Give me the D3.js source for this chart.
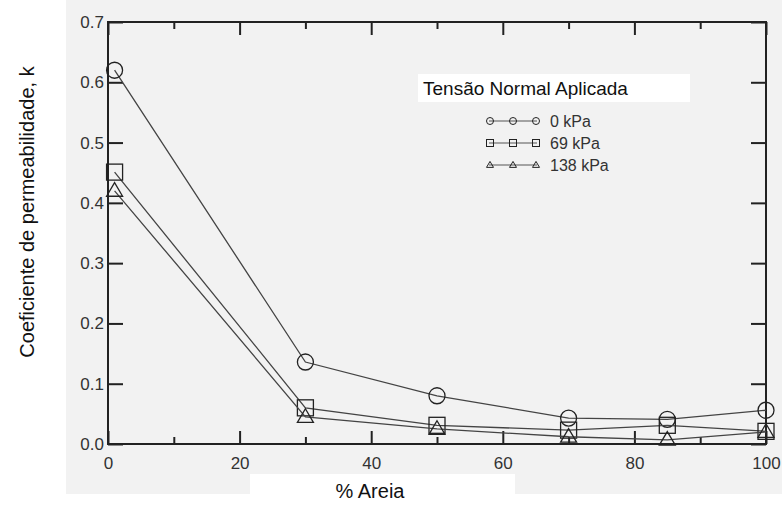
<!DOCTYPE html>
<html>
<head>
<meta charset="utf-8">
<script src="https://cdn.jsdelivr.net/npm/d3@7"></script>
<style>
  body { margin: 0; background: #fff; }
  svg { display: block; font-family: "Liberation Sans", Arial, sans-serif; }
</style>
</head>
<body>
<script>
// % areia (x) and k values
const areia = [1, 30, 50, 70, 85, 100];
const k0 = [0.62, 0.136, 0.080, 0.043, 0.041, 0.056];
const k69 = [0.451, 0.060, 0.031, 0.023, 0.031, 0.021];
const k138 = [0.420, 0.045, 0.025, 0.012, 0.007, 0.020];
const seriesNames = ["0 kPa", "69 kPa", "138 kPa"];
const symbols = ["circle", "square", "triangle"];
const xTicks = [0, 20, 40, 60, 80, 100];
const xMinor = [10, 30, 50, 70, 90];
const yTicks = [0, 0.1, 0.2, 0.3, 0.4, 0.5, 0.6, 0.7];

let W = 782, H = 511;
let svg = d3.select("body").append("svg").attr("width", W).attr("height", H);

// scanned paper background
svg.append("rect").attr("x", 66).attr("y", 0).attr("width", W - 66).attr("height", 494)
    .attr("fill", "#f2f2f2");

let x = d3.scaleLinear().domain([0, 100]).range([108, 766]);
let y = d3.scaleLinear().domain([0, 0.7]).range([444, 22]);

let ink = "#222";

function styleAxis(s) {
    s.select(".domain").remove();
    s.selectAll(".tick line").attr("stroke", ink).attr("stroke-width", 2);
    s.selectAll(".tick text").attr("font-size", 17).attr("fill", "#333")
        .attr("font-family", "Liberation Sans, Arial, sans-serif");
}

// bottom axis: ticks point up into the plot
svg.append("g").attr("transform", `translate(0,${y(0)})`)
    .call(d3.axisBottom(x).tickValues(xTicks).tickSizeInner(-13).tickSizeOuter(0)
        .tickFormat(d3.format("d")))
    .call(styleAxis)
    .selectAll(".tick text").attr("y", 13);
svg.append("g").attr("transform", `translate(0,${y(0)})`)
    .call(d3.axisBottom(x).tickValues(xMinor).tickSizeInner(-7).tickSizeOuter(0).tickFormat(""))
    .call(styleAxis);

// top axis: ticks point down
svg.append("g").attr("transform", `translate(0,${y(0.7)})`)
    .call(d3.axisTop(x).tickValues(xTicks).tickSizeInner(-13).tickSizeOuter(0).tickFormat(""))
    .call(styleAxis);
svg.append("g").attr("transform", `translate(0,${y(0.7)})`)
    .call(d3.axisTop(x).tickValues(xMinor).tickSizeInner(-7).tickSizeOuter(0).tickFormat(""))
    .call(styleAxis);

// left axis
svg.append("g").attr("transform", `translate(${x(0)},0)`)
    .call(d3.axisLeft(y).tickValues(yTicks).tickSizeInner(-15).tickSizeOuter(0)
        .tickFormat(d3.format(".1f")))
    .call(styleAxis)
    .selectAll(".tick text").attr("x", -4);

// right axis
svg.append("g").attr("transform", `translate(${x(100)},0)`)
    .call(d3.axisRight(y).tickValues(yTicks).tickSizeInner(-15).tickSizeOuter(0).tickFormat(""))
    .call(styleAxis);

// frame as one closed path
svg.append("path")
    .attr("d", `M${x(0)},${y(0)}L${x(100)},${y(0)}L${x(100)},${y(0.7)}L${x(0)},${y(0.7)}Z`)
    .attr("fill", "none").attr("stroke", ink).attr("stroke-width", 2);

// series
let allSeries = [k0, k69, k138];
let line = d3.line().x((d, i) => x(areia[i])).y(d => y(d));

function drawSymbol(sel, type, cx, cy, s, sw) {
    if (type === "circle") {
        sel.append("circle").attr("cx", cx).attr("cy", cy).attr("r", s)
            .attr("fill", "none").attr("stroke", ink).attr("stroke-width", sw);
    } else if (type === "square") {
        sel.append("rect").attr("x", cx - s).attr("y", cy - s)
            .attr("width", 2 * s).attr("height", 2 * s)
            .attr("fill", "none").attr("stroke", ink).attr("stroke-width", sw);
    } else {
        let h = s * 1.7;
        sel.append("path")
            .attr("d", `M${cx},${cy - h * 0.6}L${cx + s},${cy + h * 0.4}L${cx - s},${cy + h * 0.4}Z`)
            .attr("fill", "none").attr("stroke", ink).attr("stroke-width", sw);
    }
}

let plot = svg.append("g");
allSeries.forEach((vals, si) => {
    plot.append("path").datum(vals).attr("d", line)
        .attr("fill", "none").attr("stroke", "#444").attr("stroke-width", 1.3);
    vals.forEach((v, i) => drawSymbol(plot, symbols[si], x(areia[i]), y(v), 8, 1.3));
});

// legend
svg.append("rect").attr("x", 418).attr("y", 74).attr("width", 272).attr("height", 28).attr("fill", "#fff");
svg.append("text").attr("x", 423).attr("y", 95).attr("font-size", 19).attr("fill", "#111")
    .text("Tensão Normal Aplicada");
let legRows = [121, 143, 165];
seriesNames.forEach((name, i) => {
    let ly = legRows[i];
    svg.append("line").attr("x1", 489).attr("x2", 537).attr("y1", ly).attr("y2", ly)
        .attr("stroke", "#555").attr("stroke-width", 1);
    [490, 513, 536].forEach(lx => drawSymbol(svg, symbols[i], lx, ly, 3.5, 1));
    svg.append("text").attr("x", 550).attr("y", ly + 6).attr("font-size", 16).attr("fill", "#333")
        .text(name);
});

// axis titles
svg.append("rect").attr("x", 250).attr("y", 474).attr("width", 265).attr("height", 37).attr("fill", "#fff");
svg.append("text").attr("x", 370).attr("y", 498).attr("text-anchor", "middle")
    .attr("font-size", 20).attr("fill", "#111").text("% Areia");
svg.append("text").attr("transform", "translate(34,212) rotate(-90)")
    .attr("text-anchor", "middle").attr("font-size", 20).attr("fill", "#111")
    .text("Coeficiente de permeabilidade, k");
</script>
</body>
</html>
